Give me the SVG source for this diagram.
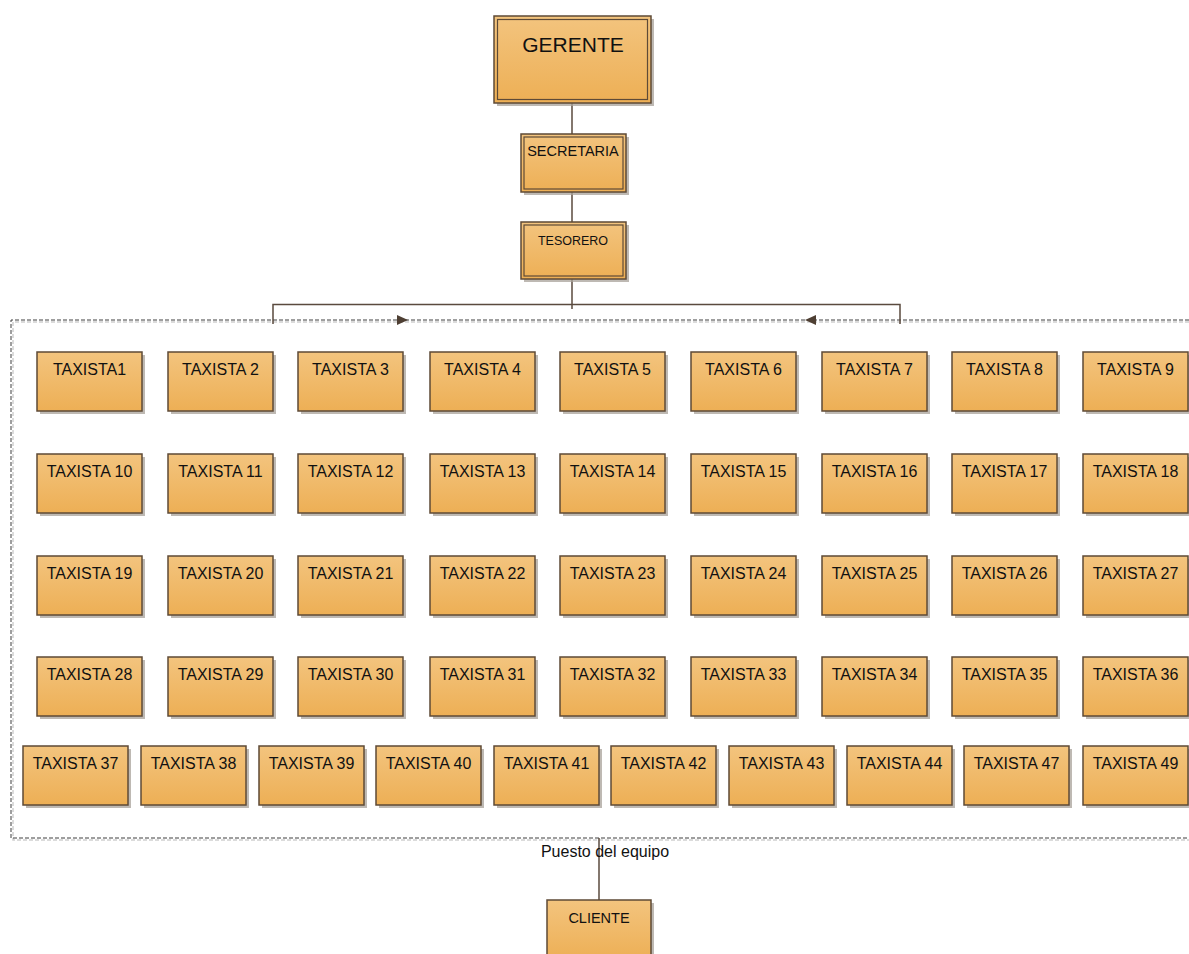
<svg xmlns="http://www.w3.org/2000/svg" width="1189" height="954" viewBox="0 0 1189 954">
  <defs>
    <linearGradient id="boxFill" x1="0" y1="0" x2="0" y2="1">
      <stop offset="0" stop-color="#F3C47E"/>
      <stop offset="1" stop-color="#EDAF55"/>
    </linearGradient>
    <style>
      .box { fill: url(#boxFill); stroke: #5E4A36; stroke-width: 1.5; }
      .inner { fill: none; stroke: #5E4A36; stroke-width: 1.2; }
      .shadow { fill: #A8A19A; opacity: 0.75; }
      .lbl { font-family: "Liberation Sans", Arial, sans-serif; fill: #111; text-anchor: middle; }
      .t { font-size: 16px; }
      .wire { fill: none; stroke: #5A4A3E; stroke-width: 1.5; }
      .frame { fill: none; stroke: #3E3E3E; stroke-width: 1; stroke-dasharray: 4 2; }
      .frameShade { fill: none; stroke: #CFCFCF; stroke-width: 1.5; stroke-dasharray: 4 2; }
      .head { fill: #4E3F33; }
    </style>
  </defs>

  <!-- dashed team frame and connectors -->
  <g id="connectors">
    <path class="frameShade" d="M1195,322 H13 V840 H1195"/>
    <path class="frame" d="M1195,320 H11 V838 H1195"/>
    <line class="wire" x1="572" y1="103" x2="572" y2="134"/>
    <line class="wire" x1="572" y1="192" x2="572" y2="222"/>
    <line class="wire" x1="572" y1="279" x2="572" y2="309"/>
    <path class="wire" d="M273,324 V304.5 H900 V324"/>
    <polygon class="head" points="408,320 397,315 397,325"/>
    <polygon class="head" points="805,320 816,315 816,325"/>
    <line class="wire" x1="599" y1="838" x2="599" y2="900"/>
  </g>

  <g id="gerente">
    <rect class="shadow" x="497" y="19" width="157" height="87"/>
    <rect class="box" x="494" y="16" width="157" height="87"/>
    <rect class="inner" x="497.5" y="19.5" width="150" height="80"/>
    <text class="lbl" x="573" y="52" font-size="21">GERENTE</text>
  </g>

  <g id="secretaria">
    <rect class="shadow" x="524" y="137" width="105" height="58"/>
    <rect class="box" x="521" y="134" width="105" height="58"/>
    <rect class="inner" x="524" y="137" width="99" height="52"/>
    <text class="lbl" x="573" y="156" font-size="14.5">SECRETARIA</text>
  </g>

  <g id="tesorero">
    <rect class="shadow" x="524" y="225" width="105" height="57"/>
    <rect class="box" x="521" y="222" width="105" height="57"/>
    <rect class="inner" x="524" y="225" width="99" height="51"/>
    <text class="lbl" x="573" y="245" font-size="12.5">TESORERO</text>
  </g>

  <!-- row 1 -->
  <g id="taxista1"><rect class="shadow" x="40" y="355" width="105" height="59"/><rect class="box" x="37" y="352" width="105" height="59"/><text class="lbl t" x="89.5" y="375">TAXISTA1</text></g>
  <g id="taxista2"><rect class="shadow" x="171" y="355" width="105" height="59"/><rect class="box" x="168" y="352" width="105" height="59"/><text class="lbl t" x="220.5" y="375">TAXISTA 2</text></g>
  <g id="taxista3"><rect class="shadow" x="301" y="355" width="105" height="59"/><rect class="box" x="298" y="352" width="105" height="59"/><text class="lbl t" x="350.5" y="375">TAXISTA 3</text></g>
  <g id="taxista4"><rect class="shadow" x="433" y="355" width="105" height="59"/><rect class="box" x="430" y="352" width="105" height="59"/><text class="lbl t" x="482.5" y="375">TAXISTA 4</text></g>
  <g id="taxista5"><rect class="shadow" x="563" y="355" width="105" height="59"/><rect class="box" x="560" y="352" width="105" height="59"/><text class="lbl t" x="612.5" y="375">TAXISTA 5</text></g>
  <g id="taxista6"><rect class="shadow" x="694" y="355" width="105" height="59"/><rect class="box" x="691" y="352" width="105" height="59"/><text class="lbl t" x="743.5" y="375">TAXISTA 6</text></g>
  <g id="taxista7"><rect class="shadow" x="825" y="355" width="105" height="59"/><rect class="box" x="822" y="352" width="105" height="59"/><text class="lbl t" x="874.5" y="375">TAXISTA 7</text></g>
  <g id="taxista8"><rect class="shadow" x="955" y="355" width="105" height="59"/><rect class="box" x="952" y="352" width="105" height="59"/><text class="lbl t" x="1004.5" y="375">TAXISTA 8</text></g>
  <g id="taxista9"><rect class="shadow" x="1086" y="355" width="105" height="59"/><rect class="box" x="1083" y="352" width="105" height="59"/><text class="lbl t" x="1135.5" y="375">TAXISTA 9</text></g>

  <!-- row 2 -->
  <g id="taxista10"><rect class="shadow" x="40" y="457" width="105" height="59"/><rect class="box" x="37" y="454" width="105" height="59"/><text class="lbl t" x="89.5" y="477">TAXISTA 10</text></g>
  <g id="taxista11"><rect class="shadow" x="171" y="457" width="105" height="59"/><rect class="box" x="168" y="454" width="105" height="59"/><text class="lbl t" x="220.5" y="477">TAXISTA 11</text></g>
  <g id="taxista12"><rect class="shadow" x="301" y="457" width="105" height="59"/><rect class="box" x="298" y="454" width="105" height="59"/><text class="lbl t" x="350.5" y="477">TAXISTA 12</text></g>
  <g id="taxista13"><rect class="shadow" x="433" y="457" width="105" height="59"/><rect class="box" x="430" y="454" width="105" height="59"/><text class="lbl t" x="482.5" y="477">TAXISTA 13</text></g>
  <g id="taxista14"><rect class="shadow" x="563" y="457" width="105" height="59"/><rect class="box" x="560" y="454" width="105" height="59"/><text class="lbl t" x="612.5" y="477">TAXISTA 14</text></g>
  <g id="taxista15"><rect class="shadow" x="694" y="457" width="105" height="59"/><rect class="box" x="691" y="454" width="105" height="59"/><text class="lbl t" x="743.5" y="477">TAXISTA 15</text></g>
  <g id="taxista16"><rect class="shadow" x="825" y="457" width="105" height="59"/><rect class="box" x="822" y="454" width="105" height="59"/><text class="lbl t" x="874.5" y="477">TAXISTA 16</text></g>
  <g id="taxista17"><rect class="shadow" x="955" y="457" width="105" height="59"/><rect class="box" x="952" y="454" width="105" height="59"/><text class="lbl t" x="1004.5" y="477">TAXISTA 17</text></g>
  <g id="taxista18"><rect class="shadow" x="1086" y="457" width="105" height="59"/><rect class="box" x="1083" y="454" width="105" height="59"/><text class="lbl t" x="1135.5" y="477">TAXISTA 18</text></g>

  <!-- row 3 -->
  <g id="taxista19"><rect class="shadow" x="40" y="559" width="105" height="59"/><rect class="box" x="37" y="556" width="105" height="59"/><text class="lbl t" x="89.5" y="579">TAXISTA 19</text></g>
  <g id="taxista20"><rect class="shadow" x="171" y="559" width="105" height="59"/><rect class="box" x="168" y="556" width="105" height="59"/><text class="lbl t" x="220.5" y="579">TAXISTA 20</text></g>
  <g id="taxista21"><rect class="shadow" x="301" y="559" width="105" height="59"/><rect class="box" x="298" y="556" width="105" height="59"/><text class="lbl t" x="350.5" y="579">TAXISTA 21</text></g>
  <g id="taxista22"><rect class="shadow" x="433" y="559" width="105" height="59"/><rect class="box" x="430" y="556" width="105" height="59"/><text class="lbl t" x="482.5" y="579">TAXISTA 22</text></g>
  <g id="taxista23"><rect class="shadow" x="563" y="559" width="105" height="59"/><rect class="box" x="560" y="556" width="105" height="59"/><text class="lbl t" x="612.5" y="579">TAXISTA 23</text></g>
  <g id="taxista24"><rect class="shadow" x="694" y="559" width="105" height="59"/><rect class="box" x="691" y="556" width="105" height="59"/><text class="lbl t" x="743.5" y="579">TAXISTA 24</text></g>
  <g id="taxista25"><rect class="shadow" x="825" y="559" width="105" height="59"/><rect class="box" x="822" y="556" width="105" height="59"/><text class="lbl t" x="874.5" y="579">TAXISTA 25</text></g>
  <g id="taxista26"><rect class="shadow" x="955" y="559" width="105" height="59"/><rect class="box" x="952" y="556" width="105" height="59"/><text class="lbl t" x="1004.5" y="579">TAXISTA 26</text></g>
  <g id="taxista27"><rect class="shadow" x="1086" y="559" width="105" height="59"/><rect class="box" x="1083" y="556" width="105" height="59"/><text class="lbl t" x="1135.5" y="579">TAXISTA 27</text></g>

  <!-- row 4 -->
  <g id="taxista28"><rect class="shadow" x="40" y="660" width="105" height="59"/><rect class="box" x="37" y="657" width="105" height="59"/><text class="lbl t" x="89.5" y="680">TAXISTA 28</text></g>
  <g id="taxista29"><rect class="shadow" x="171" y="660" width="105" height="59"/><rect class="box" x="168" y="657" width="105" height="59"/><text class="lbl t" x="220.5" y="680">TAXISTA 29</text></g>
  <g id="taxista30"><rect class="shadow" x="301" y="660" width="105" height="59"/><rect class="box" x="298" y="657" width="105" height="59"/><text class="lbl t" x="350.5" y="680">TAXISTA 30</text></g>
  <g id="taxista31"><rect class="shadow" x="433" y="660" width="105" height="59"/><rect class="box" x="430" y="657" width="105" height="59"/><text class="lbl t" x="482.5" y="680">TAXISTA 31</text></g>
  <g id="taxista32"><rect class="shadow" x="563" y="660" width="105" height="59"/><rect class="box" x="560" y="657" width="105" height="59"/><text class="lbl t" x="612.5" y="680">TAXISTA 32</text></g>
  <g id="taxista33"><rect class="shadow" x="694" y="660" width="105" height="59"/><rect class="box" x="691" y="657" width="105" height="59"/><text class="lbl t" x="743.5" y="680">TAXISTA 33</text></g>
  <g id="taxista34"><rect class="shadow" x="825" y="660" width="105" height="59"/><rect class="box" x="822" y="657" width="105" height="59"/><text class="lbl t" x="874.5" y="680">TAXISTA 34</text></g>
  <g id="taxista35"><rect class="shadow" x="955" y="660" width="105" height="59"/><rect class="box" x="952" y="657" width="105" height="59"/><text class="lbl t" x="1004.5" y="680">TAXISTA 35</text></g>
  <g id="taxista36"><rect class="shadow" x="1086" y="660" width="105" height="59"/><rect class="box" x="1083" y="657" width="105" height="59"/><text class="lbl t" x="1135.5" y="680">TAXISTA 36</text></g>

  <!-- row 5 -->
  <g id="taxista37"><rect class="shadow" x="26" y="749" width="105" height="59"/><rect class="box" x="23" y="746" width="105" height="59"/><text class="lbl t" x="75.5" y="769">TAXISTA 37</text></g>
  <g id="taxista38"><rect class="shadow" x="144" y="749" width="105" height="59"/><rect class="box" x="141" y="746" width="105" height="59"/><text class="lbl t" x="193.5" y="769">TAXISTA 38</text></g>
  <g id="taxista39"><rect class="shadow" x="262" y="749" width="105" height="59"/><rect class="box" x="259" y="746" width="105" height="59"/><text class="lbl t" x="311.5" y="769">TAXISTA 39</text></g>
  <g id="taxista40"><rect class="shadow" x="379" y="749" width="105" height="59"/><rect class="box" x="376" y="746" width="105" height="59"/><text class="lbl t" x="428.5" y="769">TAXISTA 40</text></g>
  <g id="taxista41"><rect class="shadow" x="497" y="749" width="105" height="59"/><rect class="box" x="494" y="746" width="105" height="59"/><text class="lbl t" x="546.5" y="769">TAXISTA 41</text></g>
  <g id="taxista42"><rect class="shadow" x="614" y="749" width="105" height="59"/><rect class="box" x="611" y="746" width="105" height="59"/><text class="lbl t" x="663.5" y="769">TAXISTA 42</text></g>
  <g id="taxista43"><rect class="shadow" x="732" y="749" width="105" height="59"/><rect class="box" x="729" y="746" width="105" height="59"/><text class="lbl t" x="781.5" y="769">TAXISTA 43</text></g>
  <g id="taxista44"><rect class="shadow" x="850" y="749" width="105" height="59"/><rect class="box" x="847" y="746" width="105" height="59"/><text class="lbl t" x="899.5" y="769">TAXISTA 44</text></g>
  <g id="taxista47"><rect class="shadow" x="967" y="749" width="105" height="59"/><rect class="box" x="964" y="746" width="105" height="59"/><text class="lbl t" x="1016.5" y="769">TAXISTA 47</text></g>
  <g id="taxista49"><rect class="shadow" x="1086" y="749" width="105" height="59"/><rect class="box" x="1083" y="746" width="105" height="59"/><text class="lbl t" x="1135.5" y="769">TAXISTA 49</text></g>

  <g id="puesto-label">
    <text class="lbl" x="605" y="857" font-size="16">Puesto del equipo</text>
  </g>

  <g id="cliente">
    <rect class="shadow" x="550" y="903" width="104" height="60"/>
    <rect class="box" x="547" y="900" width="104" height="60"/>
    <text class="lbl" x="599" y="923" font-size="14.5">CLIENTE</text>
  </g>
</svg>
